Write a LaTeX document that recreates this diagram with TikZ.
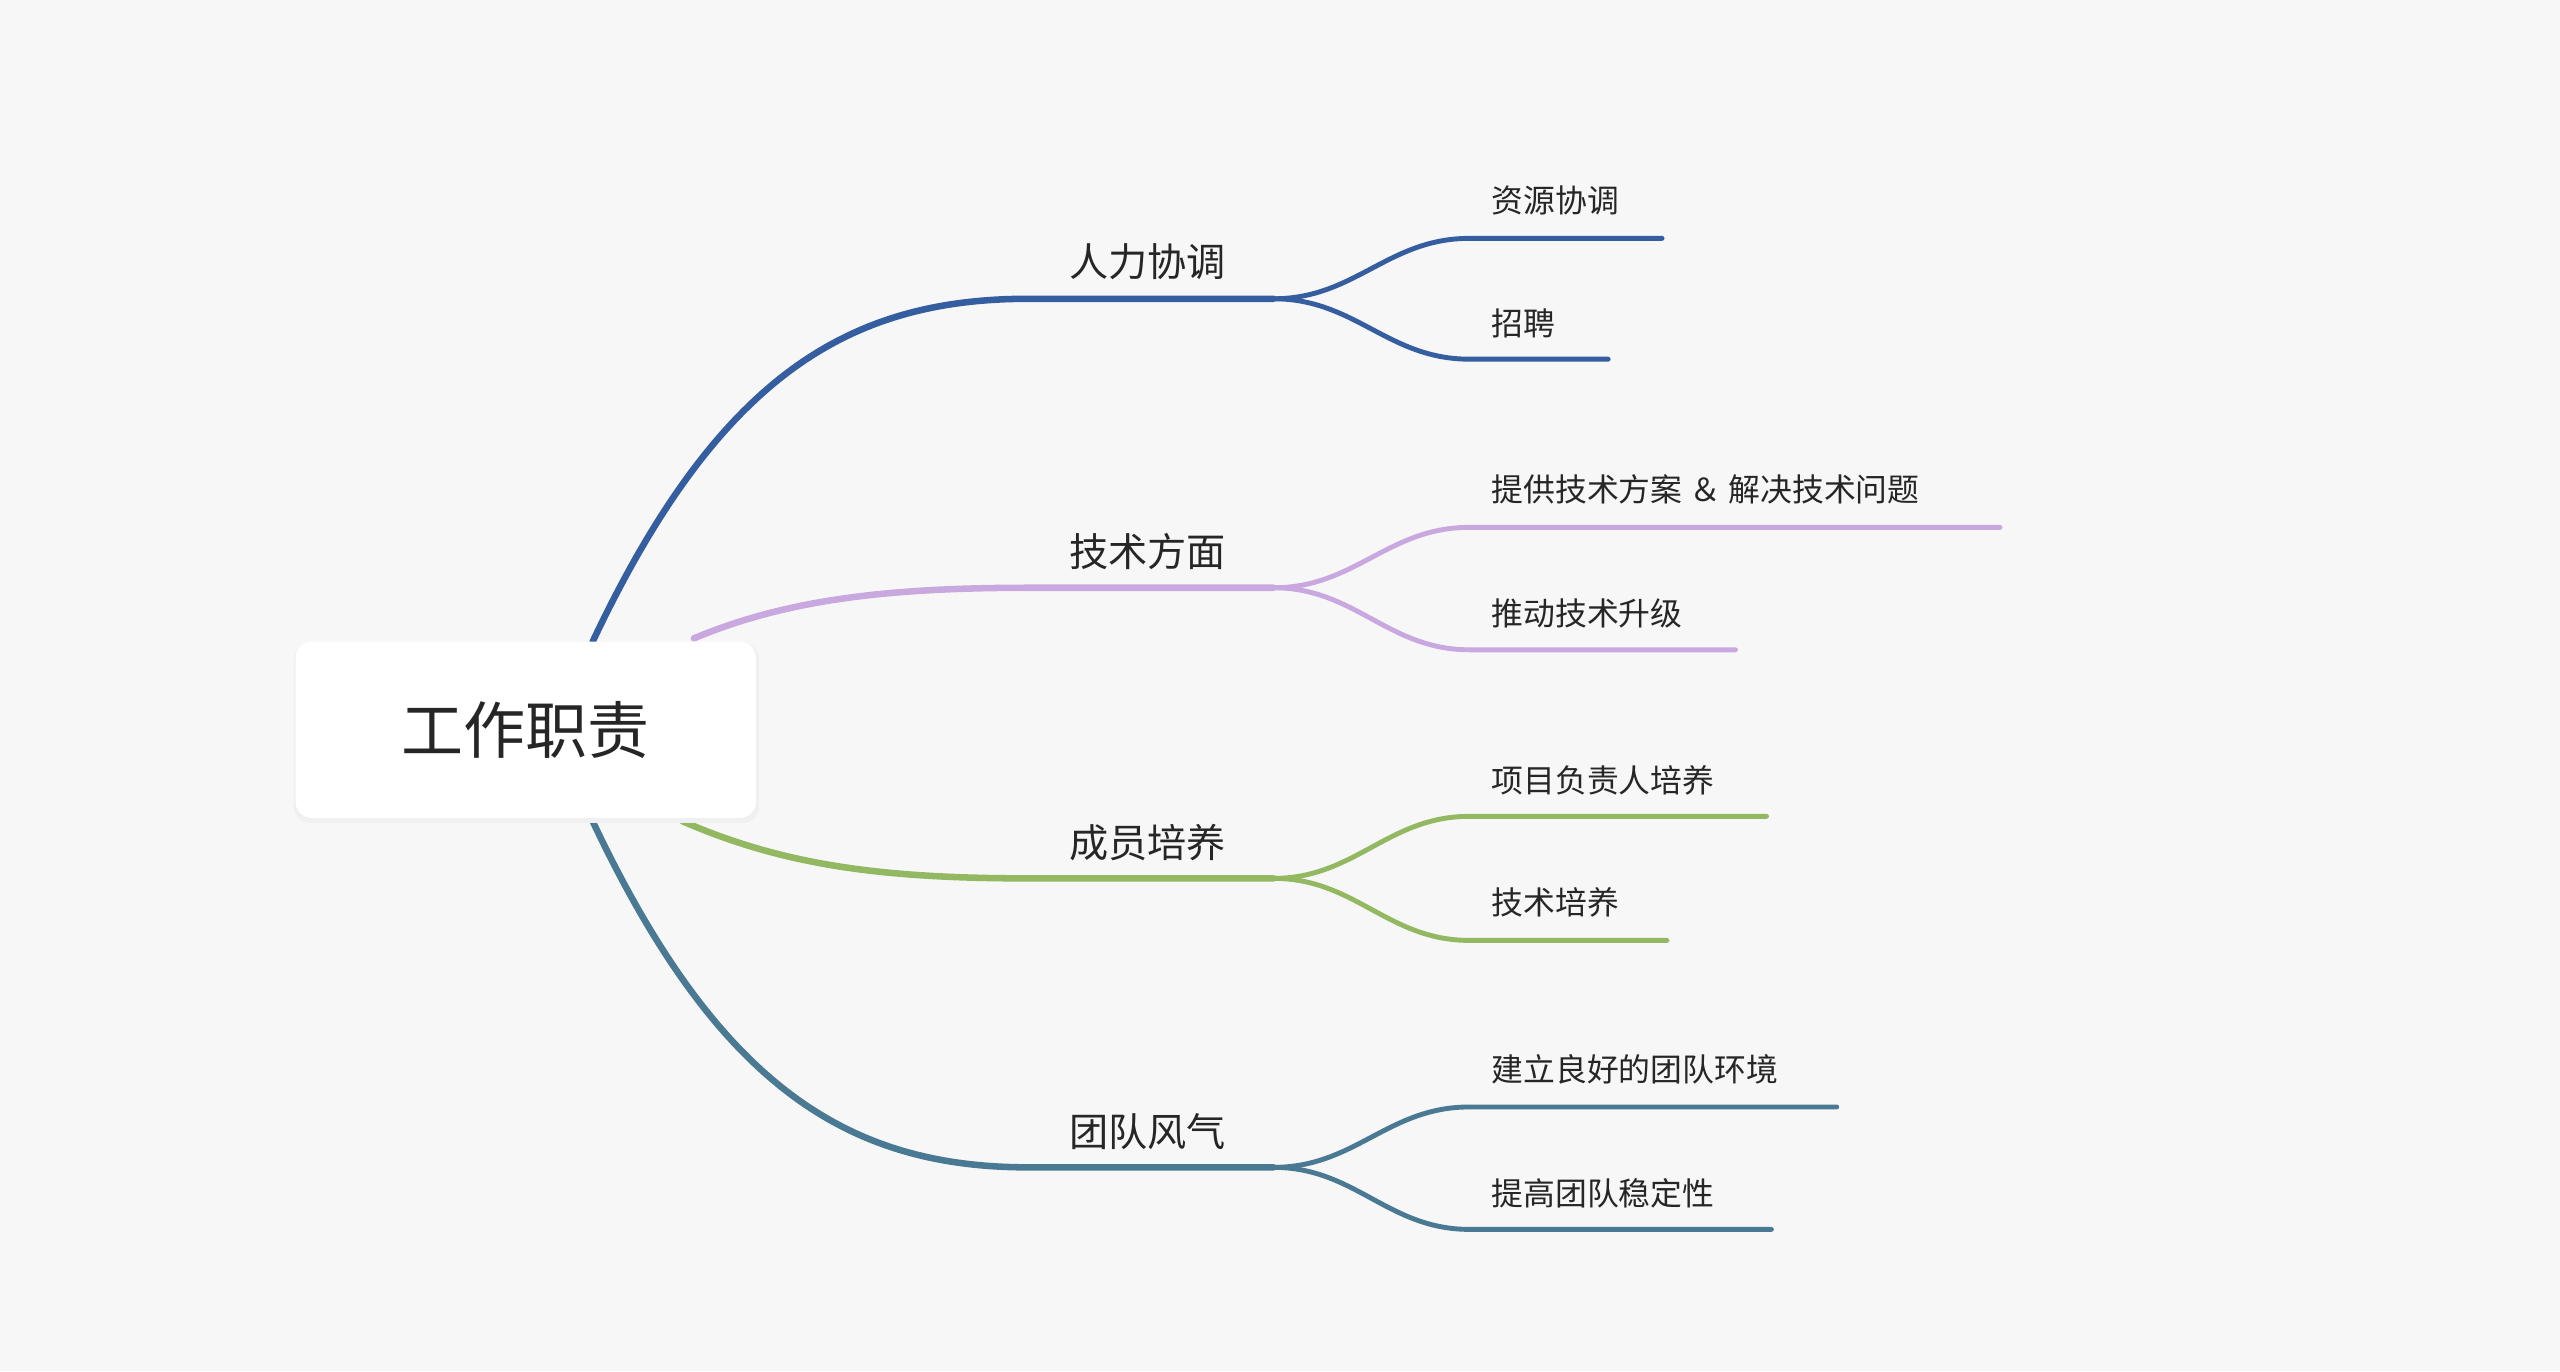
\documentclass[tikz,border=0pt]{standalone}
\usepackage{fontspec}
\setmainfont{Noto Sans CJK SC}
\begin{document}
\begin{tikzpicture}[x=1pt,y=-1pt,
  mainlbl/.style={font=\fontsize{24}{28}\selectfont,text=black!85},
  sublbl/.style={font=\fontsize{19.5}{24}\selectfont,text=black!85,anchor=west},
  mainline/.style={line width=4pt,line cap=round},
  subline/.style={line width=3pt,line cap=round}]
\definecolor{cblue}{HTML}{345EA0}
\definecolor{cpurp}{HTML}{C9A8E0}
\definecolor{cgreen}{HTML}{93B862}
\definecolor{cteal}{HTML}{4A7A93}
\definecolor{bg}{HTML}{F7F7F7}
\fill[bg] (0,0) rectangle (1568,840);
\useasboundingbox (0,0) rectangle (1568,840);
% branches (drawn before root)
\coordinate (r1) at (363,393); \coordinate (r2) at (425,391);
\coordinate (r3) at (418,503); \coordinate (r4) at (363,503);
\foreach \n/\y in {a/183,b/360,c/538,d/715}{
  \coordinate (\n s) at (630,\y); \coordinate (\n e) at (780,\y);}
\draw[mainline,cblue] (r1) .. controls (440,230) and (520,183) .. (as) -- (ae);
\draw[mainline,cpurp] (r2) .. controls (480,368) and (540,360) .. (bs) -- (be);
\draw[mainline,cgreen] (r3) .. controls (480,530) and (540,538) .. (cs) -- (ce);
\draw[mainline,cteal] (r4) .. controls (440,666) and (520,715) .. (ds) -- (de);
\node[mainlbl] (la) at (703,160) {人力协调};
\node[mainlbl] (lb) at (703,338) {技术方面};
\node[mainlbl] (lc) at (703,516) {成员培养};
\node[mainlbl] (ld) at (703,693) {团队风气};
% sub branches
\foreach \p/\col/\ya/\xa/\yb/\xb in {a/cblue/146/1018/220/985, b/cpurp/323/1225/398/1063, c/cgreen/500/1082/576/1021, d/cteal/678/1125/753/1085}{
  \coordinate (\p1s) at (900,\ya); \coordinate (\p1e) at (\xa,\ya);
  \coordinate (\p2s) at (900,\yb); \coordinate (\p2e) at (\xb,\yb);
  \draw[subline,\col] (\p e) .. controls ++(50,0) and ++(-50,0) .. (\p1s) -- (\p1e);
  \draw[subline,\col] (\p e) .. controls ++(50,0) and ++(-50,0) .. (\p2s) -- (\p2e);
}
\node[sublbl] (s1) at (910,123) {资源协调};
\node[sublbl] (s2) at (910,198) {招聘};
\node[sublbl] (s3) at (910,300) {提供技术方案 ＆ 解决技术问题};
\node[sublbl] (s4) at (910,376) {推动技术升级};
\node[sublbl] (s5) at (910,478) {项目负责人培养};
\node[sublbl] (s6) at (910,553) {技术培养};
\node[sublbl] (s7) at (910,655) {建立良好的团队环境};
\node[sublbl] (s8) at (910,731) {提高团队稳定性};
% root
\fill[black!6,rounded corners=10pt] (180,394) rectangle (465,504);
\node[fill=white,rounded corners=10pt,minimum width=282pt,minimum height=108pt,
  font=\fontsize{38}{44}\selectfont,text=black!85] (root) at (322,447) {工作职责};
\end{tikzpicture}
\end{document}
